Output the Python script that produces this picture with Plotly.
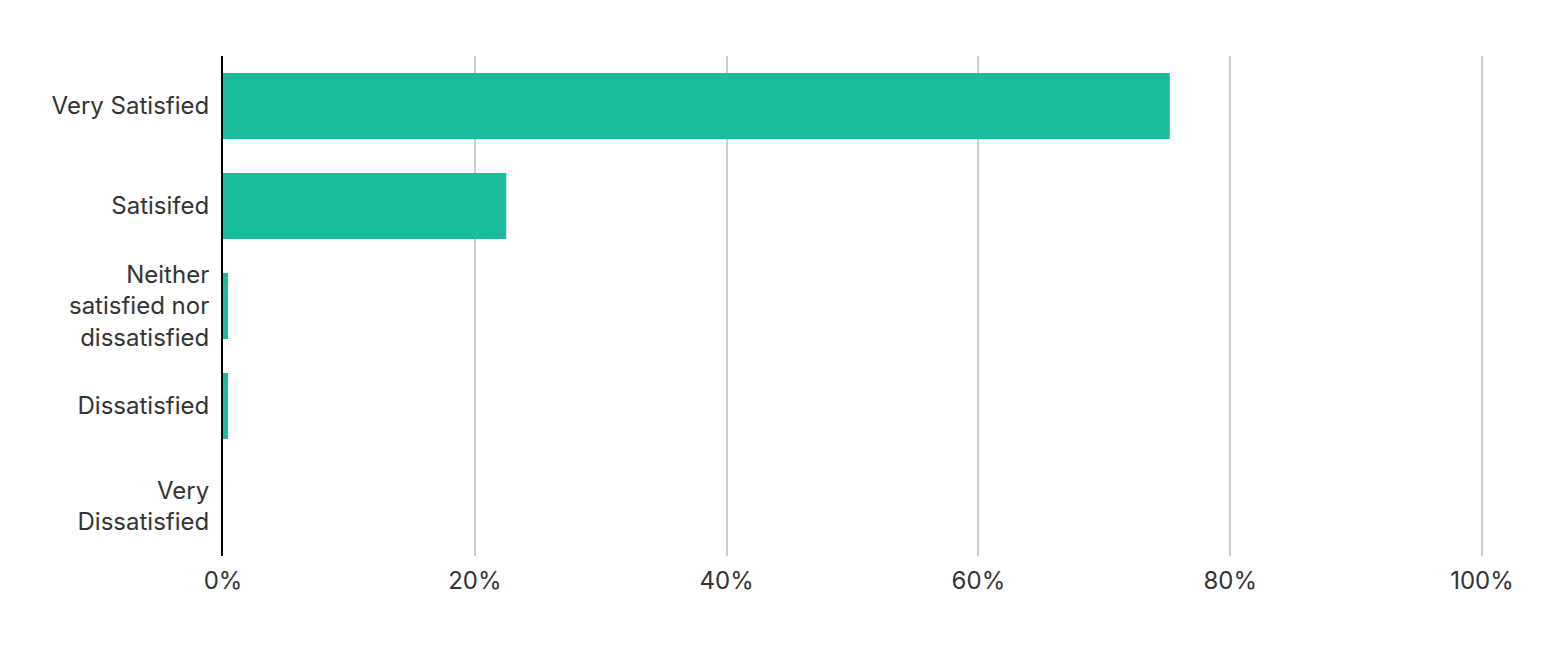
import plotly.graph_objects as go

categories = ["Very Satisfied", "Satisifed", "Neither<br>satisfied nor<br>dissatisfied",
              "Dissatisfied", "Very<br>Dissatisfied"]
values = [75.2, 22.5, 0.4, 0.4, 0.0]
tick_vals = [0, 20, 40, 60, 80, 100]
tick_text = ["0%", "20%", "40%", "60%", "80%", "100%"]

fig = go.Figure(go.Bar(
    x=values, y=categories, orientation="h",
    marker=dict(color="#1abc9c", line=dict(width=0)),
    hoverinfo="x+y",
))

fig.update_layout(
    width=1548, height=668,
    margin=dict(l=215, r=73, t=48, b=120),
    paper_bgcolor="white", plot_bgcolor="white",
    font=dict(family="Inter, 'Open Sans', sans-serif", size=24, color="#333333"),
    bargap=0.34,
    showlegend=False,
)
fig.update_xaxes(
    range=[0, 100.08], tickvals=tick_vals, ticktext=tick_text,
    tickfont=dict(size=24),
    showgrid=True, gridcolor="#cccccc", gridwidth=2,
    zeroline=False, showline=False, ticks="", ticklabelstandoff=8,
)
fig.update_yaxes(
    autorange="reversed", showline=True, linecolor="#000000", linewidth=2,
    showgrid=False, zeroline=False, ticks="", ticklabelstandoff=7,
)

fig.write_html("out.html")
